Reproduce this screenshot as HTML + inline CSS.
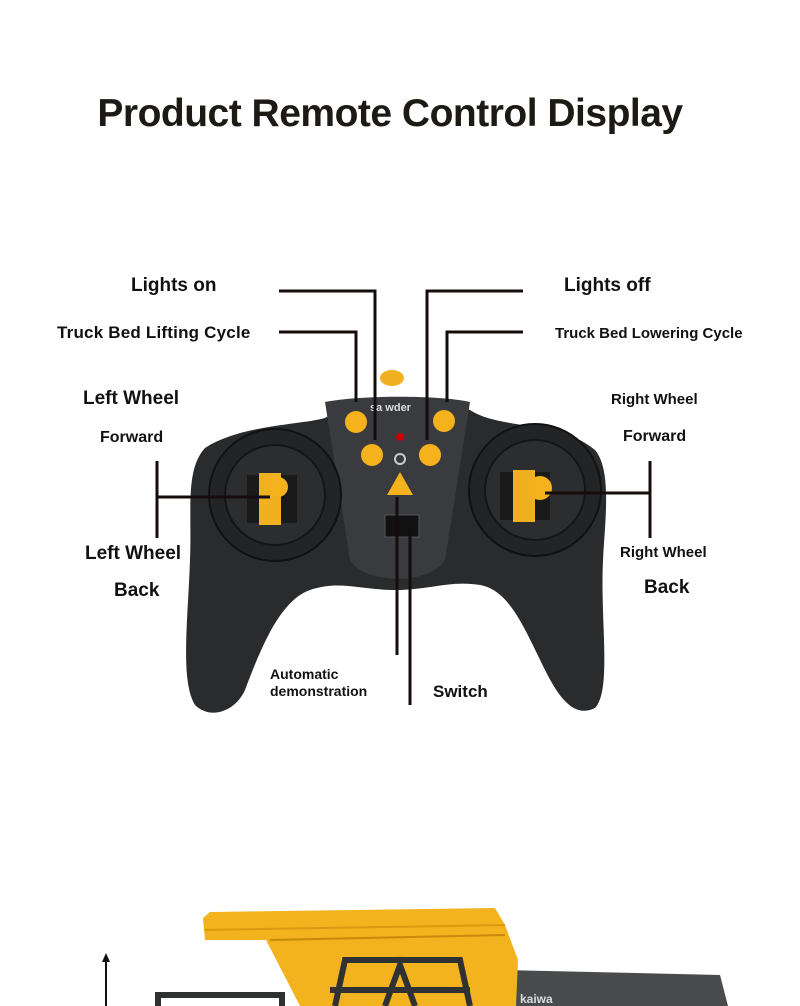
<!DOCTYPE html>
<html><head><meta charset="utf-8"><style>
body{margin:0;background:#fff;width:800px;height:1006px;overflow:hidden;position:relative;font-family:"Liberation Sans",sans-serif;}
.t{position:absolute;font-weight:bold;color:#111;white-space:nowrap;}
</style></head><body>
<div class="t" style="left:0;width:780px;text-align:center;top:92px;font-size:39px;color:#1d1a15;letter-spacing:-0.5px">Product Remote Control Display</div>
<svg width="800" height="1006" style="position:absolute;left:0;top:0">
<path d="M205,448 C240,425 300,425 325,418 C350,402 440,398 470,410 C500,430 560,420 595,450 C612,470 605,520 603,560 C600,620 612,690 595,708 C575,718 560,700 545,670 C525,630 510,590 480,585 C450,580 430,590 395,590 C360,590 340,580 310,590 C280,600 260,650 245,690 C235,712 210,720 195,705 C180,680 188,620 190,560 C192,510 185,470 205,448 Z" fill="#2a2b2d"/>
<path d="M325,402 C360,395 440,395 470,402 L445,560 C430,585 365,585 350,560 Z" fill="#3a3b3e"/>
<circle cx="275" cy="495" r="66" fill="#232426" stroke="#111" stroke-width="2"/>
<circle cx="275" cy="495" r="50" fill="#2c2d2f" stroke="#151515" stroke-width="2"/>
<circle cx="535" cy="490" r="66" fill="#232426" stroke="#111" stroke-width="2"/>
<circle cx="535" cy="490" r="50" fill="#2c2d2f" stroke="#151515" stroke-width="2"/>
<rect x="247" y="475" width="50" height="48" fill="#1a1a1a"/>
<rect x="259" y="473" width="22" height="52" fill="#f0b020"/>
<circle cx="278" cy="487" r="10" fill="#f5b21c"/>
<rect x="500" y="472" width="50" height="48" fill="#1a1a1a"/>
<rect x="513" y="470" width="22" height="52" fill="#f0b020"/>
<circle cx="540" cy="488" r="12" fill="#f5b21c"/>
<ellipse cx="392" cy="378" rx="12" ry="8" fill="#f0b020"/>
<circle cx="356" cy="422" r="11" fill="#f5b21c"/>
<circle cx="444" cy="421" r="11" fill="#f5b21c"/>
<circle cx="372" cy="455" r="11" fill="#f5b21c"/>
<circle cx="430" cy="455" r="11" fill="#f5b21c"/>
<circle cx="400" cy="437" r="4" fill="#c00"/>
<circle cx="400" cy="459" r="5" fill="none" stroke="#ccc" stroke-width="2"/>
<polygon points="400,472 387,495 413,495" fill="#f5b21c"/>
<rect x="385" y="515" width="34" height="22" fill="#111" stroke="#555"/>
<text x="370" y="411" fill="#ddd" font-size="11" font-weight="bold">sa wder</text>
<g stroke="#150c0c" stroke-width="3" fill="none">
<path d="M279,291 H375 V440"/><path d="M279,332 H356 V402"/>
<path d="M523,291 H427 V440"/><path d="M523,332 H447 V402"/>
<path d="M157,461 V538 M157,497 H270"/>
<path d="M650,461 V538 M650,493 H545"/>
<path d="M397,497 V655"/><path d="M410,530 V705"/>
</g>
<!-- truck -->
<path d="M505,970 L720,975 L728,1006 L505,1006 Z" fill="#4a4b4d"/>
<path d="M203,918 L210,912 L495,908 L505,925 L518,960 L516,1006 L300,1006 L266,940 L205,940 Z" fill="#f2b31e"/>
<path d="M205,930 L505,925" stroke="#d99a10" stroke-width="2"/>
<path d="M270,940 L505,935" stroke="#c88a0a" stroke-width="2"/>
<g stroke="#2f3133" stroke-width="6" fill="none">
<path d="M335,1006 L345,960 H460 L470,1006"/>
<path d="M330,990 H470"/>
<path d="M385,1006 L400,965 L415,1006"/>
<path d="M158,1006 V995 H282 V1006"/>
</g>
<text x="520" y="1003" fill="#ddd" font-size="12" font-weight="bold">kaiwa</text>
<path d="M106,1006 V960" stroke="#111" stroke-width="2"/>
<polygon points="106,953 102,962 110,962" fill="#111"/>
</svg>
<div class="t" style="left:131px;top:275px;font-size:19px">Lights on</div>
<div class="t" style="left:57px;top:323px;font-size:17px;letter-spacing:0.2px">Truck Bed Lifting Cycle</div>
<div class="t" style="left:564px;top:275px;font-size:19px">Lights off</div>
<div class="t" style="left:555px;top:325px;font-size:15px">Truck Bed Lowering Cycle</div>
<div class="t" style="left:83px;top:388px;font-size:19px">Left Wheel</div>
<div class="t" style="left:100px;top:429px;font-size:16px">Forward</div>
<div class="t" style="left:611px;top:391px;font-size:15px">Right Wheel</div>
<div class="t" style="left:623px;top:428px;font-size:16px">Forward</div>
<div class="t" style="left:85px;top:543px;font-size:19px">Left Wheel</div>
<div class="t" style="left:114px;top:580px;font-size:19px">Back</div>
<div class="t" style="left:620px;top:544px;font-size:15px">Right Wheel</div>
<div class="t" style="left:644px;top:577px;font-size:19px">Back</div>
<div class="t" style="left:270px;top:666px;font-size:14px;line-height:17px">Automatic<br>demonstration</div>
<div class="t" style="left:433px;top:682px;font-size:17px">Switch</div>
</body></html>
